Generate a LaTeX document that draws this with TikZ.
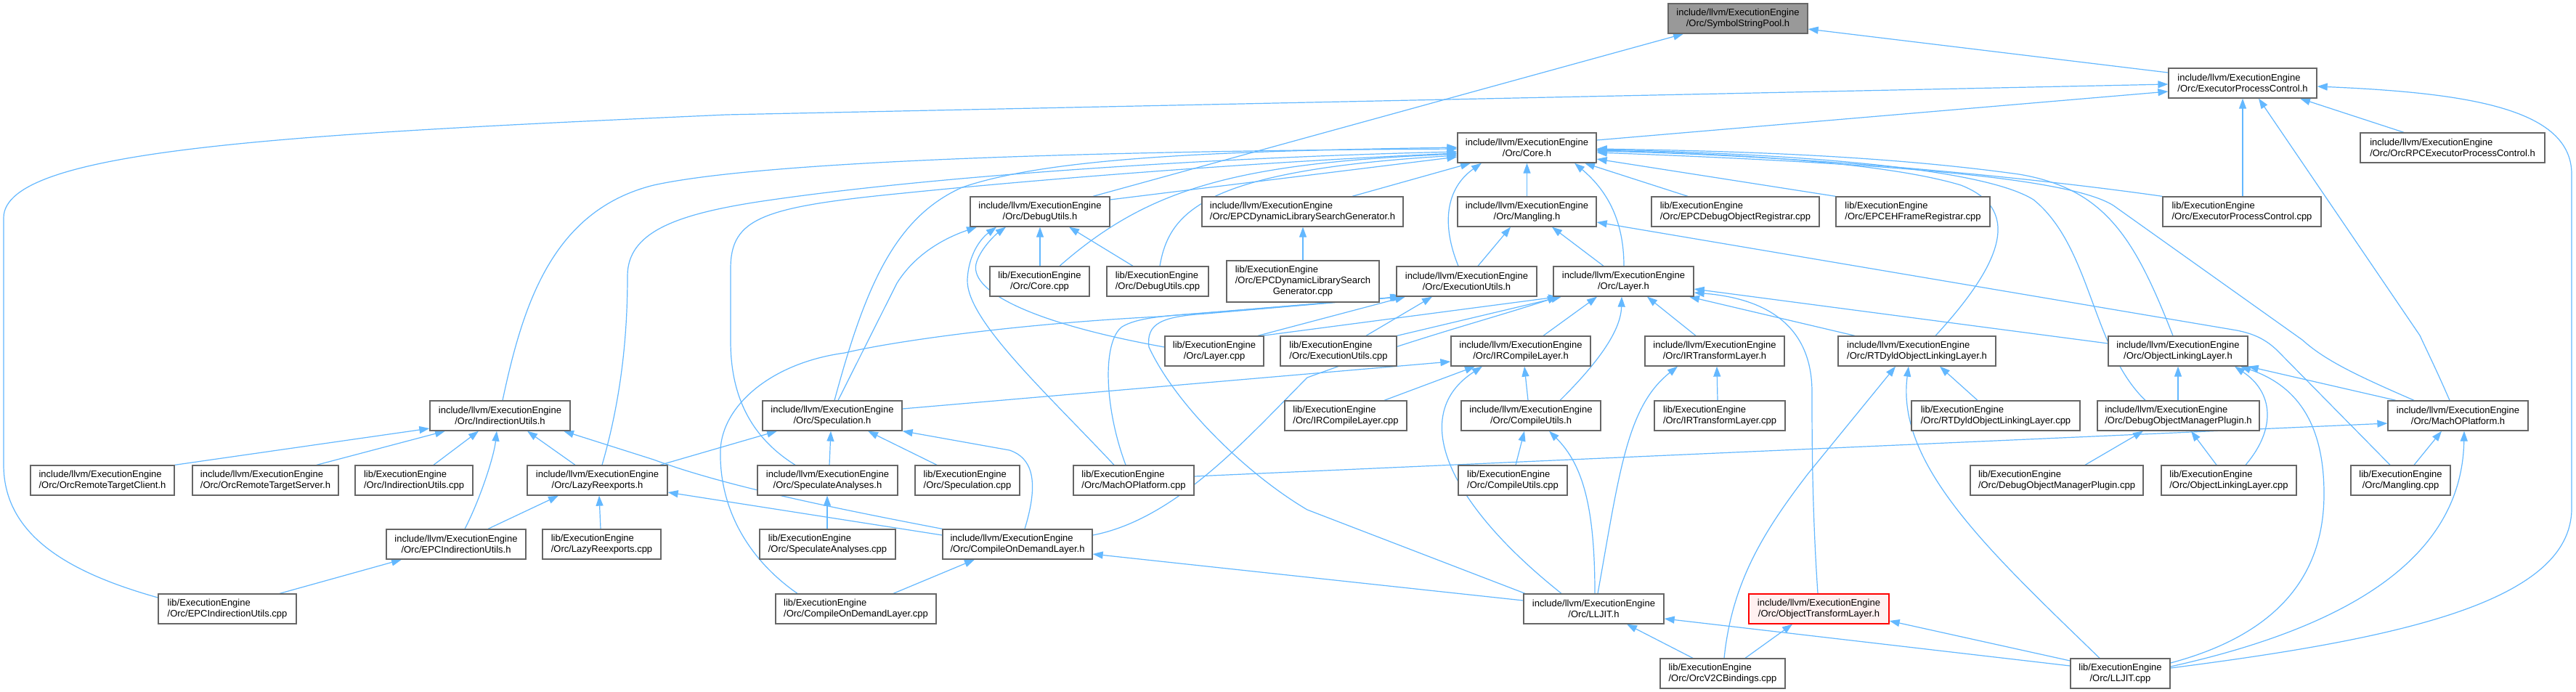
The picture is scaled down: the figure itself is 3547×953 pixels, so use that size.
\documentclass[tikz,border=0pt]{standalone}
\usepackage{fontspec}
\setmainfont{Liberation Sans}
\usetikzlibrary{arrows.meta,backgrounds}
\definecolor{edgec}{HTML}{63B8FF}
\definecolor{boxc}{HTML}{666666}
\definecolor{sspfill}{HTML}{999999}
\definecolor{redb}{HTML}{FF0000}
\definecolor{redf}{HTML}{FFF0F0}
\newlength\lwa \newlength\lwb
\newcommand\lbl[2]{\settowidth\lwa{#1}\settowidth\lwb{#2}\ifdim\lwb>\lwa\lwa=\lwb\fi\makebox[\lwa][l]{#1}\\#2}
\newcommand\incl{include/llvm/ExecutionEngine}
\newcommand\libe{lib/ExecutionEngine}
\newcommand\bx[7][]{\node[box,#1,minimum width={(#4-#3)*1pt},minimum height={(#6-#5)*1pt}] (#2) at ({(#3+#4)/2},{(#5+#6)/2}) {#7};}
\begin{document}
\begin{tikzpicture}[x=1pt,y=-1pt,
  box/.style={draw=boxc,fill=white,line width=1.3pt,inner sep=0pt,align=center,font=\fontsize{13}{15}\selectfont},
  e/.style={draw=edgec,line width=1.2pt,-{Triangle[length=14pt,width=10pt]}}]
\begin{pgfonlayer}{background}
\fill[white] (0,0) rectangle (3547,953);
\end{pgfonlayer}
\useasboundingbox (0,0) rectangle (3547,953);
% nodes
\bx[fill=sspfill]{ssp}{2297}{2489}{5}{46}{\lbl{\incl}{/Orc/SymbolStringPool.h}}
\bx{epch}{2986}{3190}{94}{135}{\lbl{\incl}{/Orc/ExecutorProcessControl.h}}
\bx{coreh}{2007}{2198}{183}{224}{\lbl{\incl}{/Orc/Core.h}}
\bx{orcrpc}{3250}{3504}{183}{224}{\lbl{\incl}{/Orc/OrcRPCExecutorProcessControl.h}}
\bx{dbgh}{1336}{1528}{271}{312}{\lbl{\incl}{/Orc/DebugUtils.h}}
\bx{edlsgh}{1655}{1932}{271}{312}{\lbl{\incl}{/Orc/EPCDynamicLibrarySearchGenerator.h}}
\bx{mangh}{2007}{2198}{271}{312}{\lbl{\incl}{/Orc/Mangling.h}}
\bx{edorcpp}{2274}{2505}{271}{312}{\lbl{\libe}{/Orc/EPCDebugObjectRegistrar.cpp}}
\bx{ehfcpp}{2528}{2740}{271}{312}{\lbl{\libe}{/Orc/EPCEHFrameRegistrar.cpp}}
\bx{epccpp}{2978}{3196}{271}{312}{\lbl{\libe}{/Orc/ExecutorProcessControl.cpp}}
\bx{corecpp}{1363}{1500}{367}{408}{\lbl{\libe}{/Orc/Core.cpp}}
\bx{dbgcpp}{1524}{1664}{367}{408}{\lbl{\libe}{/Orc/DebugUtils.cpp}}
\bx{edlsgcpp}{1689}{1899}{359}{416}{\lbl{\libe}{/Orc/EPCDynamicLibrarySearch}\\Generator.cpp}
\bx{euh}{1923}{2116}{367}{408}{\lbl{\incl}{/Orc/ExecutionUtils.h}}
\bx{layerh}{2139}{2332}{367}{408}{\lbl{\incl}{/Orc/Layer.h}}
\bx{layercpp}{1604}{1740}{463}{504}{\lbl{\libe}{/Orc/Layer.cpp}}
\bx{eucpp}{1763}{1923}{463}{504}{\lbl{\libe}{/Orc/ExecutionUtils.cpp}}
\bx{ircl}{1998}{2190}{463}{504}{\lbl{\incl}{/Orc/IRCompileLayer.h}}
\bx{irtl}{2265}{2457}{463}{504}{\lbl{\incl}{/Orc/IRTransformLayer.h}}
\bx{rtdh}{2531}{2748}{463}{504}{\lbl{\incl}{/Orc/RTDyldObjectLinkingLayer.h}}
\bx{olh}{2903}{3095}{463}{504}{\lbl{\incl}{/Orc/ObjectLinkingLayer.h}}
\bx{iuh}{592}{785}{552}{593}{\lbl{\incl}{/Orc/IndirectionUtils.h}}
\bx{spech}{1050}{1242}{552}{593}{\lbl{\incl}{/Orc/Speculation.h}}
\bx{irclcpp}{1769}{1937}{552}{593}{\lbl{\libe}{/Orc/IRCompileLayer.cpp}}
\bx{cuh}{2012}{2204}{552}{593}{\lbl{\incl}{/Orc/CompileUtils.h}}
\bx{irtlcpp}{2278}{2458}{552}{593}{\lbl{\libe}{/Orc/IRTransformLayer.cpp}}
\bx{rtdcpp}{2632}{2864}{552}{593}{\lbl{\libe}{/Orc/RTDyldObjectLinkingLayer.cpp}}
\bx{dmph}{2888}{3111}{552}{593}{\lbl{\incl}{/Orc/DebugObjectManagerPlugin.h}}
\bx{machoh}{3288}{3481}{552}{593}{\lbl{\incl}{/Orc/MachOPlatform.h}}
\bx{ortch}{42}{240}{641}{682}{\lbl{\incl}{/Orc/OrcRemoteTargetClient.h}}
\bx{ortsh}{265}{466}{641}{682}{\lbl{\incl}{/Orc/OrcRemoteTargetServer.h}}
\bx{iucpp}{489}{651}{641}{682}{\lbl{\libe}{/Orc/IndirectionUtils.cpp}}
\bx{lrh}{726}{919}{641}{682}{\lbl{\incl}{/Orc/LazyReexports.h}}
\bx{sah}{1043}{1236}{641}{682}{\lbl{\incl}{/Orc/SpeculateAnalyses.h}}
\bx{speccpp}{1260}{1404}{641}{682}{\lbl{\libe}{/Orc/Speculation.cpp}}
\bx{machocpp}{1478}{1644}{641}{682}{\lbl{\libe}{/Orc/MachOPlatform.cpp}}
\bx{cucpp}{2008}{2158}{641}{682}{\lbl{\libe}{/Orc/CompileUtils.cpp}}
\bx{dmpcpp}{2713}{2951}{641}{682}{\lbl{\libe}{/Orc/DebugObjectManagerPlugin.cpp}}
\bx{olcpp}{2976}{3162}{641}{682}{\lbl{\libe}{/Orc/ObjectLinkingLayer.cpp}}
\bx{mangcpp}{3237}{3374}{641}{682}{\lbl{\libe}{/Orc/Mangling.cpp}}
\bx{epciuh}{532}{724}{729}{770}{\lbl{\incl}{/Orc/EPCIndirectionUtils.h}}
\bx{lrcpp}{747}{910}{729}{770}{\lbl{\libe}{/Orc/LazyReexports.cpp}}
\bx{sacpp}{1046}{1233}{729}{770}{\lbl{\libe}{/Orc/SpeculateAnalyses.cpp}}
\bx{codlh}{1298}{1504}{729}{770}{\lbl{\incl}{/Orc/CompileOnDemandLayer.h}}
\bx{epciucpp}{218}{408}{818}{859}{\lbl{\libe}{/Orc/EPCIndirectionUtils.cpp}}
\bx{codlcpp}{1068}{1289}{818}{859}{\lbl{\libe}{/Orc/CompileOnDemandLayer.cpp}}
\bx{lljith}{2098}{2291}{818}{859}{\lbl{\incl}{/Orc/LLJIT.h}}
\bx[draw=redb,fill=redf]{otlh}{2408}{2601}{818}{859}{\lbl{\incl}{/Orc/ObjectTransformLayer.h}}
\bx{v2ccpp}{2286}{2458}{907}{948}{\lbl{\libe}{/Orc/OrcV2CBindings.cpp}}
\bx{lljitcpp}{2851}{2988}{907}{948}{\lbl{\libe}{/Orc/LLJIT.cpp}}
% ---------------- edges (behind the boxes) ----------------
\begin{pgfonlayer}{background}
\draw[e] (dbgh.north -| 1505,0) -- (ssp.south -| 2318,0);
\draw[e] (epch.west |- 0,100) -- (ssp.east |- 0,40);
\draw[e] (coreh.east |- 0,193) -- (epch.west |- 0,126);
\draw[e] (epciucpp.west |- 0,823) .. controls (100,790) and (5,740) .. (5,640) -- (5,300) .. controls (5,205) and (400,185) .. (1000,158) -- (epch.west |- 0,116);
\draw[e] (orcrpc.north -| 3310,0) -- (epch.south -| 3167,0);
\draw[e] (epccpp.north -| 3088,0) -- (epch.south -| 3088,0);
\draw[e] (machoh.north -| 3373,0) .. controls (3355,510) and (3345,490) .. (3332,462) -- (epch.south -| 3110,0);
\draw[e] (lljitcpp.east |- 0,920) .. controls (3300,880) and (3541,830) .. (3541,700) -- (3541,240) .. controls (3541,150) and (3400,128) .. (epch.east |- 0,119);
\draw[e] (dbgh.east |- 0,275) -- (coreh.west |- 0,216);
\draw[e] (edlsgh.north -| 1862,0) -- (coreh.south -| 2025,0);
\draw[e] (mangh.north) -- (coreh.south);
\draw[e] (edorcpp.north -| 2324,0) -- (coreh.south -| 2182,0);
\draw[e] (ehfcpp.north west) -- (coreh.east |- 0,219);
\draw[e] (epccpp.north west) .. controls (2800,245) and (2500,215) .. (coreh.east |- 0,208);
\draw[e] (corecpp.north -| 1459,0) .. controls (1580,260) and (1700,225) .. (coreh.west |- 0,212);
\draw[e] (dbgcpp.north -| 1597,0) .. controls (1610,290) and (1660,235) .. (coreh.west |- 0,214);
\draw[e] (euh.north -| 2008,0) .. controls (1985,310) and (1990,260) .. (coreh.south -| 2040,0);
\draw[e] (layerh.north -| 2236,0) .. controls (2236,300) and (2210,260) .. (coreh.south -| 2168,0);
\draw[e] (iuh.north -| 692,0) .. controls (720,420) and (760,290) .. (900,255) .. controls (1050,222) and (1500,208) .. (coreh.west |- 0,205);
\draw[e] (lrh.north -| 829,0) .. controls (858,540) and (864,450) .. (864,380) .. controls (864,320) and (930,295) .. (1050,277) .. controls (1300,240) and (1700,216) .. (coreh.west |- 0,209);
\draw[e] (spech.north -| 1149,0) .. controls (1190,400) and (1230,300) .. (1325,258) .. controls (1450,215) and (1700,208) .. (coreh.west |- 0,203);
\draw[e] (sah.north -| 1095,0) .. controls (1030,600) and (1006,540) .. (1006,470) -- (1006,370) .. controls (1006,300) and (1050,285) .. (1244,266) .. controls (1500,240) and (1800,220) .. (coreh.west |- 0,211);
\draw[e] (rtdh.north -| 2665,0) .. controls (2750,370) and (2790,290) .. (2700,255) .. controls (2600,225) and (2400,212) .. (coreh.east |- 0,207);
\draw[e] (olh.north -| 2992,0) .. controls (2940,330) and (2900,260) .. (2780,240) .. controls (2600,215) and (2400,208) .. (coreh.east |- 0,205);
\draw[e] (dmph.north -| 2954,0) .. controls (2880,480) and (2880,340) .. (2800,275) .. controls (2720,225) and (2400,210) .. (coreh.east |- 0,206);
\draw[e] (machoh.north -| 3324,0) .. controls (3240,515) and (3200,495) .. (3170,468) -- (2910,283) .. controls (2850,245) and (2600,225) .. (coreh.east |- 0,210);
\draw[e] (corecpp.north -| 1432,0) -- (dbgh.south -| 1432,0);
\draw[e] (dbgcpp.north -| 1560,0) -- (dbgh.south -| 1472,0);
\draw[e] (spech.north -| 1154,0) -- (1235,390) .. controls (1260,350) and (1300,328) .. (dbgh.south -| 1345,0);
\draw[e] (layercpp.west |- 0,478) .. controls (1420,445) and (1330,400) .. (1345,360) .. controls (1352,340) and (1372,322) .. (dbgh.south -| 1385,0);
\draw[e] (machocpp.north -| 1534,0) .. controls (1440,540) and (1330,440) .. (1332,385) .. controls (1334,345) and (1355,325) .. (dbgh.south -| 1372,0);
\draw[e] (edlsgcpp.north -| 1794,0) -- (edlsgh.south -| 1794,0);
\draw[e] (euh.north -| 2035,0) -- (mangh.south -| 2080,0);
\draw[e] (layerh.north -| 2208,0) -- (mangh.south -| 2137,0);
\draw[e] (mangcpp.north -| 3291,0) -- (3135,482) .. controls (3120,468) and (3105,460) .. (3080,455) -- (mangh.east |- 0,306);
\draw[e] (layercpp.north -| 1732,0) -- (euh.south -| 1935,0);
\draw[e] (eucpp.north -| 1881,0) -- (euh.south -| 1972,0);
\draw[e] (lljith.north -| 2100,0) -- (1800,702) .. controls (1720,655) and (1620,560) .. (1582,478) .. controls (1578,445) and (1600,436) .. (1660,432) -- (euh.south -| 1930,0);
\draw[e] (machocpp.north -| 1550,0) .. controls (1520,560) and (1518,470) .. (1545,450) .. controls (1565,438) and (1600,435) .. (1660,431) -- (euh.south -| 1932,0);
\draw[e] (codlcpp.north -| 1098,0) .. controls (1030,770) and (990,700) .. (992,620) .. controls (994,560) and (1060,500) .. (1163,486) .. controls (1230,470) and (1400,446) .. (1596,436) -- (euh.south -| 1928,0);
\draw[e] (layercpp.north -| 1738,0) -- (layerh.south -| 2146,0);
\draw[e] (eucpp.north east) -- (layerh.south -| 2150,0);
\draw[e] (ircl.north -| 2125,0) -- (layerh.south -| 2199,0);
\draw[e] (cuh.north -| 2148,0) .. controls (2210,490) and (2232,450) .. (layerh.south -| 2233,0);
\draw[e] (irtl.north -| 2335,0) -- (layerh.south -| 2268,0);
\draw[e] (rtdh.north -| 2554,0) -- (layerh.south -| 2326,0);
\draw[e] (olh.west |- 0,473) -- (layerh.east |- 0,398);
\draw[e] (otlh.north -| 2503,0) .. controls (2495,700) and (2495,600) .. (2495,540) .. controls (2495,440) and (2420,410) .. (layerh.east |- 0,403);
\draw[e] (codlh.east |- 0,737) .. controls (1620,715) and (1720,600) .. (1800,520) .. controls (1950,465) and (2050,440) .. (layerh.south -| 2145,0);
\draw[e] (spech.east |- 0,563) -- (ircl.west |- 0,498);
\draw[e] (irclcpp.north -| 1906,0) -- (ircl.south -| 2031,0);
\draw[e] (cuh.north -| 2104,0) -- (ircl.south -| 2099,0);
\draw[e] (lljith.north -| 2150,0) .. controls (1990,690) and (1940,570) .. (ircl.south -| 2041,0);
\draw[e] (irtlcpp.north -| 2365,0) -- (irtl.south -| 2364,0);
\draw[e] (lljith.north -| 2200,0) .. controls (2230,650) and (2240,560) .. (irtl.south -| 2310,0);
\draw[e] (rtdcpp.north -| 2723,0) -- (rtdh.south -| 2671,0);
\draw[e] (lljitcpp.north -| 2891,0) .. controls (2740,760) and (2610,640) .. (rtdh.south -| 2628,0);
\draw[e] (v2ccpp.north -| 2374,0) .. controls (2385,800) and (2430,730) .. (2489,653) -- (rtdh.south -| 2610,0);
\draw[e] (dmph.north -| 2999,0) -- (olh.south -| 2999,0);
\draw[e] (olcpp.north -| 3092,0) .. controls (3135,590) and (3130,540) .. (olh.south -| 3077,0);
\draw[e] (machoh.north -| 3299,0) -- (olh.south east);
\draw[e] (lljitcpp.east |- 0,913) .. controls (3150,870) and (3200,780) .. (3200,680) .. controls (3200,580) and (3160,530) .. (olh.south -| 3085,0);
\draw[e] (ortch.north east) -- (iuh.west |- 0,590);
\draw[e] (ortsh.north -| 436,0) -- (iuh.south -| 613,0);
\draw[e] (iucpp.north -| 597,0) -- (iuh.south -| 659,0);
\draw[e] (epciuh.north -| 640,0) .. controls (660,690) and (680,630) .. (iuh.south -| 684,0);
\draw[e] (lrh.north -| 792,0) -- (iuh.south -| 726,0);
\draw[e] (codlh.north west) .. controls (1150,700) and (1000,670) .. (900,633) -- (iuh.south -| 776,0);
\draw[e] (sah.north -| 1142,0) -- (spech.south -| 1144,0);
\draw[e] (speccpp.north -| 1290,0) -- (spech.south -| 1195,0);
\draw[e] (lrh.north -| 909,0) -- (spech.south -| 1070,0);
\draw[e] (codlh.north -| 1411,0) .. controls (1432,660) and (1420,630) .. (1390,620) -- (spech.south east);
\draw[e] (cucpp.north -| 2087,0) -- (cuh.south -| 2099,0);
\draw[e] (lljith.north -| 2196,0) .. controls (2196,700) and (2180,640) .. (cuh.south -| 2133,0);
\draw[e] (dmpcpp.north -| 2871,0) -- (dmph.south -| 2951,0);
\draw[e] (olcpp.north -| 3052,0) -- (dmph.south -| 3017,0);
\draw[e] (mangcpp.north -| 3324,0) -- (machoh.south -| 3362,0);
\draw[e] (lljitcpp.east |- 0,918) .. controls (3250,860) and (3390,760) .. (machoh.south -| 3393,0);
\draw[e] (machocpp.east |- 0,656) -- (machoh.west |- 0,583);
\draw[e] (epciuh.north -| 672,0) -- (lrh.south -| 769,0);
\draw[e] (lrcpp.north -| 827,0) -- (lrh.south -| 825,0);
\draw[e] (codlh.west |- 0,737) -- (lrh.east |- 0,678);
\draw[e] (sacpp.north -| 1139,0) -- (sah.south -| 1139,0);
\draw[e] (codlcpp.north -| 1230,0) -- (codlh.south -| 1342,0);
\draw[e] (lljith.west |- 0,827) -- (codlh.east |- 0,763);
\draw[e] (epciucpp.north -| 385,0) -- (epciuh.south -| 553,0);
\draw[e] (lljitcpp.west |- 0,917) -- (lljith.east |- 0,852);
\draw[e] (v2ccpp.north -| 2331,0) -- (lljith.south -| 2240,0);
\draw[e] (v2ccpp.north -| 2403,0) -- (otlh.south -| 2468,0);
\draw[e] (lljitcpp.west |- 0,910) -- (otlh.east |- 0,855);
\end{pgfonlayer}
\end{tikzpicture}
\end{document}
